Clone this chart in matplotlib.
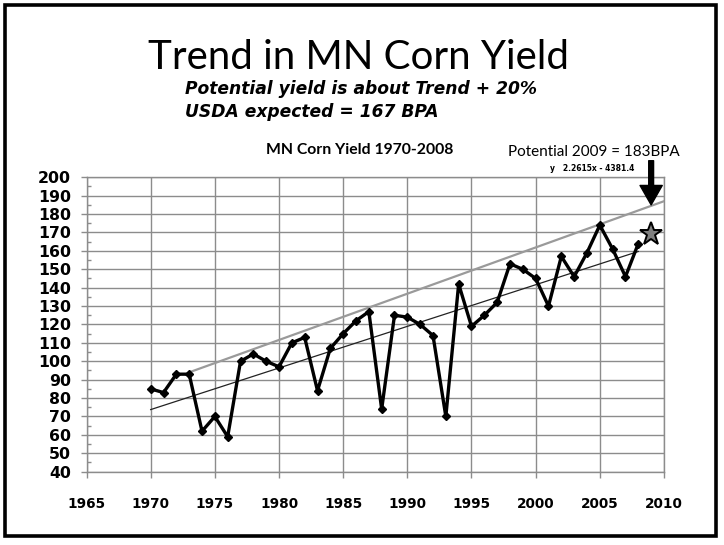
import matplotlib.pyplot as plt
import numpy as np
from matplotlib.patches import Rectangle
from matplotlib.ticker import MultipleLocator

years = list(range(1970, 2009))
yields = [85, 83, 93, 93, 62, 70, 59, 100, 104, 100,
          97, 110, 113, 84, 107, 115, 122, 127, 74, 125,
          124, 120, 114, 70, 142, 119, 125, 132, 153, 150,
          145, 130, 157, 146, 159, 174, 161, 146, 164]

# linear trend from the chart: y = 2.2615x - 4381.4
trend_slope = 2.2615
trend_icept = -4381.4
trend_years = [1970, 2008]

# upper "potential" line (gray)
potential_years = [1973, 2010]
potential_vals = [94, 187]

star_year = 2009
star_val = 169
arrow_year = 2009
arrow_from = 209
arrow_to = 185

x_ticks = list(range(1965, 2011, 5))
y_ticks = list(range(40, 201, 10))

fig = plt.figure(figsize=(7.24, 5.45), dpi=100)
ax = fig.add_axes([0.1195, 0.1345, 0.7976, 0.5402])

grid_c = '#8c8c8c'
ax.set_xlim(1965, 2010)
ax.set_ylim(40, 200)
ax.set_xticks(x_ticks)
ax.set_yticks(y_ticks)
ax.yaxis.set_minor_locator(MultipleLocator(5))
ax.grid(True, color=grid_c, linewidth=1.0)
for s in ax.spines.values():
    s.set_color(grid_c)
    s.set_linewidth(1.0)
ax.tick_params(axis='both', which='major', direction='out', length=4,
               color=grid_c, width=1.0)
ax.tick_params(axis='y', which='minor', direction='in', length=3,
               color=grid_c, width=1.0)
ax.tick_params(axis='y', pad=7)
ax.tick_params(axis='x', pad=14)
for lab in ax.get_yticklabels():
    lab.set_fontsize(11.3)
    lab.set_fontweight('bold')
for lab in ax.get_xticklabels():
    lab.set_fontsize(9.8)
    lab.set_fontweight('bold')

tx = np.array(trend_years)
ax.plot(tx, trend_slope * tx + trend_icept, color='#222222', linewidth=0.9, zorder=3)
ax.plot(potential_years, potential_vals, color='#9a9a9a', linewidth=1.6, zorder=3)
ax.plot(years, yields, color='black', linewidth=2.4, marker='D', markersize=4.5,
        zorder=4)
ax.plot([star_year], [star_val], marker='*', markersize=17, markerfacecolor='#808080',
        markeredgecolor='black', markeredgewidth=1.4, linestyle='none', zorder=5,
        clip_on=False)

ax.annotate('', xy=(arrow_year, arrow_to), xytext=(arrow_year, arrow_from),
            arrowprops=dict(width=3.5, headwidth=16, headlength=14,
                            facecolor='black', edgecolor='black'),
            annotation_clip=False)

fig.text(0.495, 0.895, 'Trend in MN Corn Yield', ha='center', va='center',
         fontsize=29, family='Lato')
fig.text(0.2555, 0.837, 'Potential yield is about Trend + 20%', ha='left', va='center',
         fontsize=12.3, fontweight='bold', fontstyle='italic')
fig.text(0.2555, 0.795, 'USDA expected = 167 BPA', ha='left', va='center',
         fontsize=12.3, fontweight='bold', fontstyle='italic')
fig.text(0.497, 0.724, 'MN Corn Yield 1970-2008', ha='center', va='center',
         fontsize=11.3, fontweight='bold', family='Lato')
fig.text(0.82, 0.722, 'Potential 2009 = 183BPA', ha='center', va='center',
         fontsize=11, family='Lato')
fig.text(0.818, 0.69, 'y   2.2615x - 4381.4', ha='center', va='center',
         fontsize=5.5, fontweight='bold')

fig.patches.append(Rectangle((5 / 724, 1 - 536 / 545), 711 / 724, 531 / 545,
                             transform=fig.transFigure, fill=False,
                             edgecolor='black', linewidth=2.6))

plt.savefig('out.png', dpi=100)
